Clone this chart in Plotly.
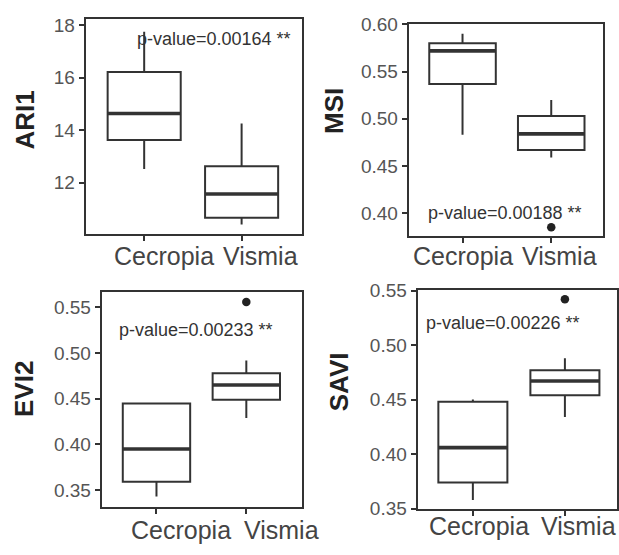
import plotly.graph_objects as go

# ---------------- data ----------------
categories = ["Cecropia", "Vismia"]
indices = ["ARI1", "MSI", "EVI2", "SAVI"]
p_values = ["0.00164", "0.00188", "0.00233", "0.00226"]
signif = "**"

ari1_lower = [12.52, 10.41]
ari1_q1 = [13.63, 10.67]
ari1_median = [14.64, 11.57]
ari1_q3 = [16.22, 12.63]
ari1_upper = [17.75, 14.26]
ari1_outliers = [[], []]

msi_lower = [0.483, 0.459]
msi_q1 = [0.537, 0.467]
msi_median = [0.572, 0.484]
msi_q3 = [0.580, 0.503]
msi_upper = [0.590, 0.520]
msi_outliers = [[], [0.385]]

evi2_lower = [0.343, 0.429]
evi2_q1 = [0.359, 0.449]
evi2_median = [0.395, 0.465]
evi2_q3 = [0.4447, 0.478]
evi2_upper = [0.446, 0.492]
evi2_outliers = [[], [0.556]]

savi_lower = [0.358, 0.434]
savi_q1 = [0.374, 0.454]
savi_median = [0.406, 0.467]
savi_q3 = [0.448, 0.477]
savi_upper = [0.450, 0.488]
savi_outliers = [[], [0.542]]

ari1_ticks = [12, 14, 16, 18]
msi_ticks = [0.40, 0.45, 0.50, 0.55, 0.60]
evi2_ticks = [0.35, 0.40, 0.45, 0.50, 0.55]
savi_ticks = [0.35, 0.40, 0.45, 0.50, 0.55]

# ---------------- layout settings ----------------
W, H = 619, 555
FONT = "Liberation Sans, Arial, sans-serif"
DARK = "#333333"
BOX_W = 0.75

panels = [
    dict(stats=(ari1_lower, ari1_q1, ari1_median, ari1_q3, ari1_upper), out=ari1_outliers,
         ticks=ari1_ticks, fmt="d", px_x=(86, 303), px_y=(9, 233), xr=[-0.6, 1.62], yr=[10.04, 18.25],
         title_pos=(25, 114), p_pos=(0.714, 17.47), label_shift=(20, 19), label_y=256),
    dict(stats=(msi_lower, msi_q1, msi_median, msi_q3, msi_upper), out=msi_outliers,
         ticks=msi_ticks, fmt=".2f", px_x=(410, 605), px_y=(15, 235), xr=[-0.607, 1.584], yr=[0.3757, 0.6],
         title_pos=(335, 105), p_pos=(0.48, 0.400), label_shift=(0, 8), label_y=256),
    dict(stats=(evi2_lower, evi2_q1, evi2_median, evi2_q3, evi2_upper), out=evi2_outliers,
         ticks=evi2_ticks, fmt=".2f", px_x=(102, 303), px_y=(293, 517), xr=[-0.61, 1.62], yr=[0.331, 0.567],
         title_pos=(24, 394), p_pos=(0.44, 0.525), label_shift=(25, 35), label_y=540),
    dict(stats=(savi_lower, savi_q1, savi_median, savi_q3, savi_upper), out=savi_outliers,
         ticks=savi_ticks, fmt=".2f", px_x=(419, 619), px_y=(291, 518.3), xr=[-0.6, 1.566], yr=[0.35, 0.5505],
         title_pos=(340, 386), p_pos=(0.33, 0.5206), label_shift=(6, 14), label_y=536),
]

fig = go.Figure()
annotations = []
layout_axes = {}

for k, pnl in enumerate(panels):
    n = k + 1
    xa = "x" if n == 1 else f"x{n}"
    ya = "y" if n == 1 else f"y{n}"
    lower, q1, med, q3, upper = pnl["stats"]
    xs = list(range(len(categories)))

    fig.add_trace(go.Box(
        x=xs, q1=q1, median=med, q3=q3, lowerfence=lower, upperfence=upper,
        width=BOX_W, whiskerwidth=0, boxpoints=False,
        fillcolor="white", line=dict(color=DARK, width=2),
        xaxis=xa, yaxis=ya, showlegend=False, hoverinfo="skip",
    ))
    # thicker median line (ggplot style)
    mx, my = [], []
    for i, m in enumerate(med):
        mx += [i - BOX_W / 2, i + BOX_W / 2, None]
        my += [m, m, None]
    fig.add_trace(go.Scatter(x=mx, y=my, mode="lines", line=dict(color=DARK, width=3.6),
                             xaxis=xa, yaxis=ya, showlegend=False, hoverinfo="skip"))
    # outliers
    ox, oy = [], []
    for i, vals in enumerate(pnl["out"]):
        for v in vals:
            ox.append(i)
            oy.append(v)
    if ox:
        fig.add_trace(go.Scatter(x=ox, y=oy, mode="markers", marker=dict(color="#222222", size=8.5),
                                 xaxis=xa, yaxis=ya, showlegend=False, hoverinfo="skip"))

    x0, x1 = pnl["px_x"]
    y0, y1 = pnl["px_y"]
    key_x = "xaxis" if n == 1 else f"xaxis{n}"
    key_y = "yaxis" if n == 1 else f"yaxis{n}"
    layout_axes[key_x] = dict(
        domain=[x0 / W, min(x1 / W, 1.0)], range=pnl["xr"], anchor=ya,
        tickvals=xs, showticklabels=False, ticks="outside", ticklen=5, tickwidth=1.6, tickcolor=DARK,
        showline=True, mirror=True, linecolor=DARK, linewidth=2,
        showgrid=False, zeroline=False, fixedrange=True,
    )
    layout_axes[key_y] = dict(
        domain=[1 - y1 / H, 1 - y0 / H], range=pnl["yr"], anchor=xa,
        tickvals=pnl["ticks"], tickformat=pnl["fmt"], ticks="outside", ticklen=5, tickwidth=1.6,
        tickcolor=DARK, tickfont=dict(family=FONT, size=19, color="#555555"),
        showline=True, mirror=True, linecolor=DARK, linewidth=2,
        showgrid=False, zeroline=False, fixedrange=True,
    )

    # category labels
    for i, cat in enumerate(categories):
        annotations.append(dict(
            text=cat, x=i, xref=xa, y=1 - pnl["label_y"] / H, yref="paper",
            xanchor="center", yanchor="middle", xshift=pnl["label_shift"][i], showarrow=False,
            font=dict(family=FONT, size=25, color="#444444"),
        ))
    # y title
    tx, ty = pnl["title_pos"]
    annotations.append(dict(
        text=f"<b>{indices[k]}</b>", x=tx / W, y=1 - ty / H, xref="paper", yref="paper",
        xanchor="center", yanchor="middle", textangle=-90, showarrow=False,
        font=dict(family=FONT, size=26, color="#222222"),
    ))
    # p-value text
    px_, py_ = pnl["p_pos"]
    annotations.append(dict(
        text=f"p-value={p_values[k]} {signif}", x=px_, y=py_, xref=xa, yref=ya,
        xanchor="center", yanchor="middle", showarrow=False,
        font=dict(family=FONT, size=18, color="#333333"),
    ))

fig.update_layout(
    width=W, height=H, margin=dict(l=0, r=0, t=0, b=0),
    paper_bgcolor="white", plot_bgcolor="white",
    annotations=annotations, showlegend=False,
    **layout_axes,
)

fig.write_html("out.html", config={"displayModeBar": False})
